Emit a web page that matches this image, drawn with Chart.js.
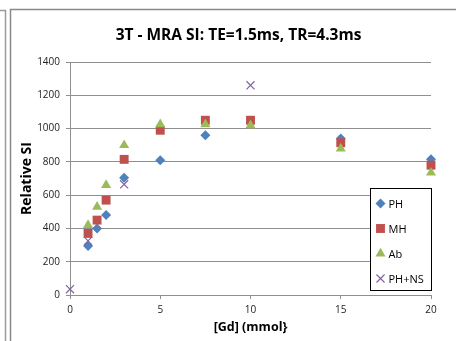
<!DOCTYPE html>
<html>
<head>
<meta charset="utf-8">
<script src="https://cdn.jsdelivr.net/npm/chart.js@4"></script>
<style>
  html, body { margin: 0; padding: 0; background: #fff; }
  canvas { display: block; }
</style>
</head>
<body>
<canvas id="siChart" width="456" height="341"></canvas>
<script>
// values
const gdPH = [1, 1.5, 2, 3, 5, 7.5, 15, 20];
const siPH = [295, 400, 480, 705, 810, 960, 940, 815];

const gdMH = [1, 1.5, 2, 3, 5, 7.5, 10, 15, 20];
const siMH = [370, 450, 570, 815, 990, 1050, 1050, 915, 780];

const gdAb = [1, 1.5, 2, 3, 5, 7.5, 10, 15, 20];
const siAb = [420, 530, 660, 900, 1025, 1025, 1020, 880, 735];

const gdNS = [0, 1, 3, 10];
const siNS = [35, 325, 665, 1260];

const xTicks = [0, 5, 10, 15, 20];
const yTicks = [0, 200, 400, 600, 800, 1000, 1200, 1400];

const seriesNames = ['PH', 'MH', 'Ab', 'PH+NS'];
const chartTitle = '3T - MRA SI: TE=1.5ms, TR=4.3ms';
const FONT = "'Open Sans', 'Liberation Sans', sans-serif";
const GRID = '#8f8f8f';

const toPoints = (xs, ys) => xs.map((x, i) => ({ x: x, y: ys[i] }));

// frame lines of the spreadsheet cell and chart border, plus the title
// (the chart object is wider than the window, so the title is centred on it)
const framePlugin = {
    id: 'frame',
    beforeDraw(chart) {
        const ctx = chart.ctx;
        ctx.save();
        ctx.strokeStyle = '#9a9a9a';
        ctx.lineWidth = 1.5;
        ctx.beginPath();
        ctx.moveTo(0, 10.5);
        ctx.lineTo(5.5, 10.5);
        ctx.lineTo(5.5, chart.height);
        ctx.stroke();
        ctx.strokeStyle = '#888';
        ctx.beginPath();
        ctx.moveTo(10.5, chart.height);
        ctx.lineTo(10.5, 9.5);
        ctx.lineTo(chart.width, 9.5);
        ctx.stroke();

        ctx.fillStyle = '#000';
        ctx.font = 'bold 15.5px ' + FONT;
        ctx.textAlign = 'center';
        ctx.textBaseline = 'middle';
        ctx.fillText(chartTitle, 238.5, 36);
        ctx.restore();
    }
};

// boxed legend sitting inside the plot area, bottom right
const boxLegendPlugin = {
    id: 'boxLegend',
    afterDraw(chart) {
        const ctx = chart.ctx;
        const area = chart.chartArea;
        const w = 61, h = 102;
        const left = area.right - w + 0.5;
        const top = area.bottom - h - 4.5;
        ctx.save();
        ctx.fillStyle = '#fff';
        ctx.fillRect(left, top, w, h);
        ctx.strokeStyle = '#000';
        ctx.lineWidth = 1;
        ctx.strokeRect(left, top, w, h);
        ctx.font = '11px ' + FONT;
        ctx.textBaseline = 'middle';
        ctx.textAlign = 'left';
        chart.data.datasets.forEach((ds, i) => {
            const y = top + 15 + i * 25;
            const x = left + 10;
            ctx.fillStyle = ds.pointBackgroundColor;
            ctx.strokeStyle = ds.pointBorderColor;
            ctx.lineWidth = ds.pointBorderWidth;
            Chart.helpers.drawPoint(ctx, {
                pointStyle: ds.pointStyle,
                radius: ds.pointRadius,
                borderWidth: ds.pointBorderWidth,
                rotation: 0
            }, x, y);
            ctx.fillStyle = '#000';
            ctx.fillText(ds.label, x + 8, y + 1);
        });
        ctx.restore();
    }
};

new Chart(document.getElementById('siChart'), {
    type: 'scatter',
    data: {
        datasets: [
            {
                label: seriesNames[0],
                data: toPoints(gdPH, siPH),
                pointStyle: 'rectRot',
                pointRadius: 5,
                pointBackgroundColor: '#4F81BD',
                pointBorderColor: '#4F81BD',
                pointBorderWidth: 0,
                order: 4,
                clip: false
            },
            {
                label: seriesNames[1],
                data: toPoints(gdMH, siMH),
                pointStyle: 'rect',
                pointRadius: 6.3,
                pointBackgroundColor: '#C0504D',
                pointBorderColor: '#C0504D',
                pointBorderWidth: 0,
                order: 3,
                clip: false
            },
            {
                label: seriesNames[2],
                data: toPoints(gdAb, siAb),
                pointStyle: 'triangle',
                pointRadius: 5.8,
                pointBackgroundColor: '#9BBB59',
                pointBorderColor: '#9BBB59',
                pointBorderWidth: 0,
                order: 2,
                clip: false
            },
            {
                label: seriesNames[3],
                data: toPoints(gdNS, siNS),
                pointStyle: 'crossRot',
                pointRadius: 5.7,
                pointBackgroundColor: '#8064A2',
                pointBorderColor: '#8064A2',
                pointBorderWidth: 1.2,
                order: 1,
                clip: false
            }
        ]
    },
    options: {
        responsive: false,
        devicePixelRatio: 1,
        animation: false,
        layout: { padding: { left: 0, right: 25, top: 62, bottom: 0 } },
        plugins: {
            legend: { display: false },
            tooltip: { enabled: false },
            title: { display: false }
        },
        scales: {
            x: {
                type: 'linear',
                min: 0,
                max: 20,
                afterBuildTicks: axis => { axis.ticks = xTicks.map(v => ({ value: v })); },
                afterFit: axis => { axis.height = 46; },
                grid: {
                    drawOnChartArea: false,
                    drawTicks: true,
                    tickLength: 4,
                    color: GRID
                },
                border: { color: GRID },
                ticks: {
                    color: '#222',
                    padding: 5,
                    font: { family: FONT, size: 10 },
                    callback: v => String(v)
                },
                title: {
                    display: true,
                    text: '[Gd] (mmol}',
                    color: '#000',
                    font: { family: FONT, size: 12.5, weight: 'bold' },
                    padding: { top: 0, bottom: 6.5 }
                }
            },
            y: {
                type: 'linear',
                min: 0,
                max: 1400,
                afterBuildTicks: axis => { axis.ticks = yTicks.map(v => ({ value: v })); },
                afterFit: axis => { axis.width = 70; },
                grid: {
                    color: GRID,
                    tickLength: 4
                },
                border: { color: GRID },
                ticks: {
                    color: '#222',
                    padding: 6,
                    font: { family: FONT, size: 10 },
                    callback: v => String(v)
                },
                title: {
                    display: true,
                    text: 'Relative SI',
                    color: '#000',
                    font: { family: FONT, size: 14, weight: 'bold' },
                    padding: { top: 19, bottom: 0 }
                }
            }
        }
    },
    plugins: [framePlugin, boxLegendPlugin]
});
</script>
</body>
</html>
